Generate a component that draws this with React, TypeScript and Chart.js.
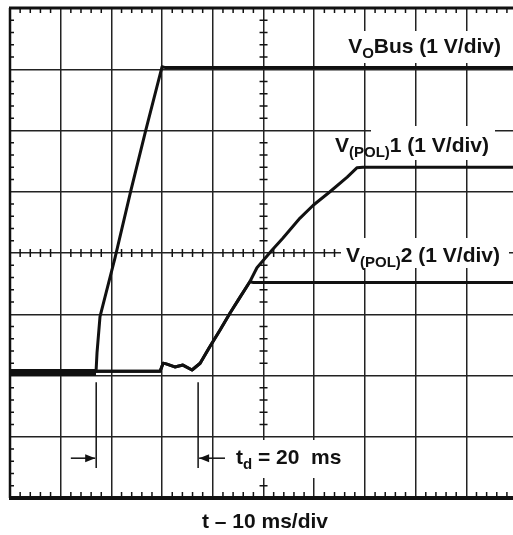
import React, { useEffect, useRef } from "react";
import { Chart, registerables } from "chart.js";

Chart.register(...registerables);

// ---- data (time in divisions of 10 ms, voltage in divisions of 1 V) ----
const voBusT = [0, 1.696, 1.716, 1.775, 2.071, 2.387, 2.682, 2.998, 3.05, 10];
const voBusV = [2.05, 2.05, 2.37, 2.96, 3.92, 5.03, 6.02, 7.04, 7.03, 7.03];

const pol1T = [0, 2.96, 3.02, 3.08, 3.25, 3.41, 3.59, 3.75, 3.94, 4.14, 4.34, 4.5, 4.73, 4.87, 5.17, 5.38, 5.72, 5.98, 6.31, 6.65, 6.84, 6.96, 10];
const pol1V = [2.07, 2.07, 2.2, 2.19, 2.14, 2.17, 2.09, 2.2, 2.47, 2.74, 3.02, 3.23, 3.53, 3.76, 4.05, 4.24, 4.57, 4.78, 5.0, 5.24, 5.39, 5.4, 5.4];

const pol2T = [0, 2.96, 3.02, 3.08, 3.25, 3.41, 3.59, 3.75, 3.94, 4.14, 4.34, 4.5, 4.73, 4.8, 10];
const pol2V = [2.07, 2.07, 2.2, 2.19, 2.14, 2.17, 2.09, 2.2, 2.47, 2.74, 3.02, 3.23, 3.53, 3.52, 3.52];

const markerT = [1.7, 3.71];
const arrowFromT = [1.2, 4.24];

const X_MIN = 0;
const X_MAX = 9.92;
const Y_MIN = 0;
const Y_MAX = 8;

const FONT = '"Liberation Sans", Arial, Helvetica, sans-serif';
const MAIN = 21;
const SUB = 15;

type Part = [string, boolean];

function richWidth(ctx: CanvasRenderingContext2D, parts: Part[]) {
  let w = 0;
  for (const [t, sub] of parts) {
    ctx.font = `bold ${sub ? SUB : MAIN}px ${FONT}`;
    w += ctx.measureText(t).width;
  }
  return w;
}

function drawRich(ctx: CanvasRenderingContext2D, parts: Part[], x: number, y: number, align: "left" | "right" | "center") {
  const w = richWidth(ctx, parts);
  let cx = align === "left" ? x : align === "right" ? x - w : x - w / 2;
  ctx.textBaseline = "alphabetic";
  ctx.textAlign = "left";
  ctx.fillStyle = "#111";
  for (const [t, sub] of parts) {
    ctx.font = `bold ${sub ? SUB : MAIN}px ${FONT}`;
    ctx.fillText(t, cx, sub ? y + 5 : y);
    cx += ctx.measureText(t).width;
  }
}

const scopePlugin = {
  id: "scopeOverlay",
  beforeDatasetsDraw(chart: any) {
    const { ctx, chartArea: a, scales } = chart;
    const xs = scales.x;
    const ys = scales.y;
    ctx.save();
    ctx.strokeStyle = "#111";
    ctx.lineCap = "butt";

    // frame
    ctx.lineWidth = 3;
    ctx.beginPath();
    ctx.moveTo(a.left - 1, a.top);
    ctx.lineTo(a.right, a.top);
    ctx.stroke();
    ctx.lineWidth = 4;
    ctx.beginPath();
    ctx.moveTo(a.left - 1, a.bottom);
    ctx.lineTo(a.right, a.bottom);
    ctx.stroke();
    ctx.lineWidth = 2.5;
    ctx.beginPath();
    ctx.moveTo(a.left, a.top);
    ctx.lineTo(a.left, a.bottom);
    ctx.stroke();

    // minor ticks
    ctx.lineWidth = 1.5;
    const cy = ys.getPixelForValue(4);
    const cx = xs.getPixelForValue(5);
    for (let i = 1; i <= 50; i++) {
      if (i % 5 === 0) continue;
      const px = xs.getPixelForValue(i * 0.2);
      if (px > a.right) break;
      ctx.beginPath();
      ctx.moveTo(px, a.top);
      ctx.lineTo(px, a.top + 5);
      ctx.moveTo(px, a.bottom);
      ctx.lineTo(px, a.bottom - 6);
      ctx.moveTo(px, cy - 4);
      ctx.lineTo(px, cy + 4);
      ctx.stroke();
    }
    for (let i = 1; i < 40; i++) {
      if (i % 5 === 0) continue;
      const py = ys.getPixelForValue(i * 0.2);
      ctx.beginPath();
      ctx.moveTo(a.left, py);
      ctx.lineTo(a.left + 4, py);
      ctx.moveTo(cx - 4, py);
      ctx.lineTo(cx + 4, py);
      ctx.stroke();
    }

    // white label backgrounds
    ctx.fillStyle = "#fff";
    ctx.fillRect(345, 31, 160, 32);
    ctx.fillRect(371, 126, 124, 34);
    ctx.fillRect(341, 238, 168, 30);
    ctx.fillRect(228, 440, 117, 38);

    // delay markers
    ctx.strokeStyle = "#111";
    ctx.fillStyle = "#111";
    ctx.lineWidth = 1.5;
    const yTop = ys.getPixelForValue(1.89);
    const yBot = ys.getPixelForValue(0.49);
    const yArr = ys.getPixelForValue(0.65);
    markerT.forEach((t, i) => {
      const mx = xs.getPixelForValue(t);
      ctx.beginPath();
      ctx.moveTo(mx, yTop);
      ctx.lineTo(mx, yBot);
      ctx.stroke();
      const fx = xs.getPixelForValue(arrowFromT[i]);
      const dir = Math.sign(mx - fx);
      ctx.beginPath();
      ctx.moveTo(fx, yArr);
      ctx.lineTo(mx - dir * 1, yArr);
      ctx.stroke();
      ctx.beginPath();
      ctx.moveTo(mx - dir * 1, yArr);
      ctx.lineTo(mx - dir * 11, yArr - 4);
      ctx.lineTo(mx - dir * 11, yArr + 4);
      ctx.closePath();
      ctx.fill();
    });

    // labels
    drawRich(ctx, [["V", false], ["O", true], ["Bus (1 V/div)", false]], 501, 53, "right");
    drawRich(ctx, [["V", false], ["(POL)", true], ["1 (1 V/div)", false]], 335, 152, "left");
    drawRich(ctx, [["V", false], ["(POL)", true], ["2 (1 V/div)", false]], 346, 262, "left");
    drawRich(ctx, [["t", false], ["d", true], [" = 20  ms", false]], 236, 464, "left");
    drawRich(ctx, [["t \u2013 10 ms/div", false]], 265, 528, "center");
    ctx.restore();
  },
};

export default function App() {
  const ref = useRef<HTMLCanvasElement | null>(null);
  useEffect(() => {
    if (!ref.current) return;
    const toPts = (t: number[], v: number[]) => t.map((x, i) => ({ x, y: v[i] }));
    const line = (label: string, t: number[], v: number[], thickFirst: boolean) => ({
      label,
      data: toPts(t, v),
      borderColor: "#111",
      borderWidth: 3,
      borderJoinStyle: "round",
      pointRadius: 0,
      tension: 0,
      fill: false,
      segment: thickFirst
        ? { borderWidth: (c: any) => (c.p0DataIndex === 0 ? 7 : 3) }
        : undefined,
    });
    const chart = new Chart(ref.current, {
      type: "line",
      data: {
        datasets: [
          line("VoBus", voBusT, voBusV, true),
          line("Vpol1", pol1T, pol1V, false),
          line("Vpol2", pol2T, pol2V, false),
        ],
      },
      options: {
        animation: false,
        responsive: false,
        devicePixelRatio: 1,
        layout: { padding: { left: 10, top: 8, right: 0, bottom: 37 } },
        plugins: { legend: { display: false }, tooltip: { enabled: false } },
        scales: {
          x: {
            type: "linear",
            min: X_MIN,
            max: X_MAX,
            afterFit: (s: any) => {
              s.height = 0;
            },
            ticks: { display: false, stepSize: 1, includeBounds: false },
            grid: { color: "#222", lineWidth: 1.5, drawTicks: false },
            border: { display: false },
          },
          y: {
            type: "linear",
            min: Y_MIN,
            max: Y_MAX,
            afterFit: (s: any) => {
              s.width = 0;
            },
            ticks: { display: false, stepSize: 1 },
            grid: { color: "#222", lineWidth: 1.5, drawTicks: false },
            border: { display: false },
          },
        },
      } as any,
      plugins: [scopePlugin],
    });
    return () => chart.destroy();
  }, []);
  return (
    <div style={{ position: "absolute", left: 0, top: 0, width: 513, height: 535, background: "#fff" }}>
      <canvas ref={ref} width={513} height={535} style={{ width: 513, height: 535, display: "block" }} />
    </div>
  );
}
